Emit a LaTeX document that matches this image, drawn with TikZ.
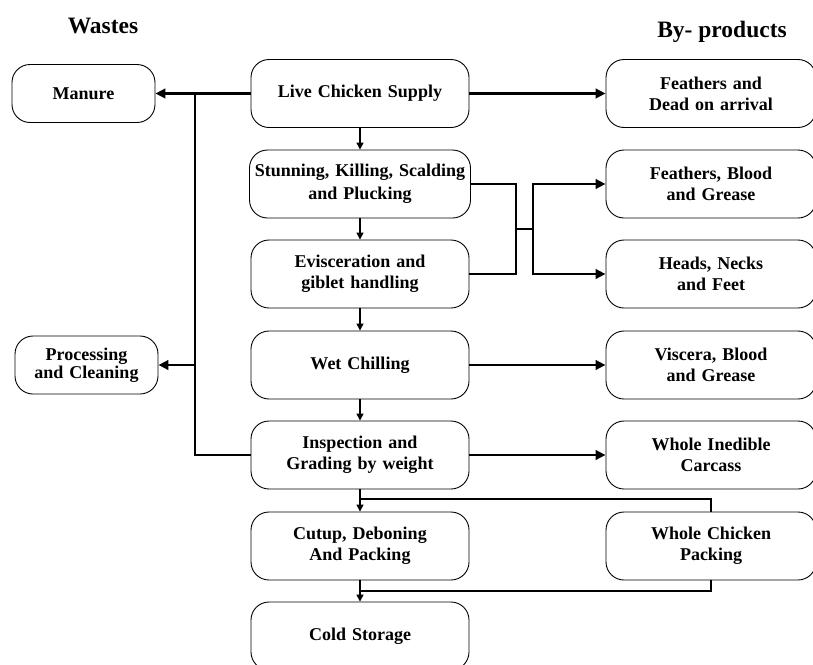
\documentclass[tikz,border=0pt]{standalone}
\usepackage{fontspec}
\setmainfont{Liberation Serif}
\usetikzlibrary{arrows.meta}

\begin{document}
\begin{tikzpicture}[x=1pt, y=-1pt]
    \tikzset{box/.style = {shape=rectangle, draw, rounded corners=18pt, line width=0.9pt, inner sep=0pt, minimum height=68pt, align=center, font=\bfseries\fontsize{18}{21}\selectfont}}
    \tikzset{mainbox/.style = {box, text width=218pt}}
    \tikzset{sidebox/.style = {box, text width=210pt}}
    \tikzset{wastebox/.style = {box, text width=143pt, minimum height=58pt}}
    \tikzset{heading/.style = {font=\bfseries\fontsize{23.5}{27}\selectfont, anchor=base}}
    \tikzset{flow/.style = {draw, line width=1.3pt, -{Triangle[length=7pt, width=7pt]}}}
    \tikzset{edge/.style = {draw, line width=2.5pt, -{Triangle[length=10pt, width=9.5pt]}}}
    \tikzset{link/.style = {draw, line width=2.5pt, -}}

    \useasboundingbox (0,0) rectangle (813,664);

    % headings
    \node[heading] (wastes) at (103,33) {Wastes};
    \node[heading] (byprod) at (722,37) {By- products};

    % vertices
    \node[mainbox] (live) at (360,93.5) {Live Chicken Supply};
    \node[mainbox, text width=221pt, font=\bfseries\fontsize{18}{23}\selectfont] (stun) at (360,184) {Stunning, Killing, Scalding\\ and Plucking};
    \node[mainbox] (evis) at (360,274) {Evisceration and\\ giblet handling};
    \node[mainbox] (wet) at (360,365) {Wet Chilling};
    \node[mainbox] (insp) at (360,455) {Inspection and\\ Grading by weight};
    \node[mainbox] (cut) at (360,546) {Cutup, Deboning\\ And Packing};
    \node[mainbox] (cold) at (360,636) {Cold Storage};

    \node[sidebox] (fda) at (711,93.5) {Feathers and\\ Dead on arrival};
    \node[sidebox] (fbg) at (711,184) {Feathers, Blood\\ and Grease};
    \node[sidebox] (hnf) at (711,274) {Heads, Necks\\ and Feet};
    \node[sidebox] (vbg) at (711,365) {Viscera, Blood\\ and Grease};
    \node[sidebox] (wic) at (711,455) {Whole Inedible\\ Carcass};
    \node[sidebox] (wcp) at (711,546) {Whole Chicken\\ Packing};

    \node[wastebox] (manure) at (83.5,93.5) {Manure};
    \node[wastebox, font=\bfseries\fontsize{18}{18}\selectfont] (proc) at (86.5,365) {Processing\\ and Cleaning};

    % junctions
    \coordinate (ltop) at (195,93.5);
    \coordinate (lmid) at (195,365);
    \coordinate (mrg) at (516,229);
    \coordinate (spl) at (533,229);
    \coordinate (tj) at (360,499);
    \coordinate (bj) at (360,591);

    % edges
    \draw [flow] (live) -- (stun);
    \draw [flow] (stun) -- (evis);
    \draw [flow] (evis) -- (wet);
    \draw [flow] (wet) -- (insp);
    \draw [flow] (insp) -- (cut);
    \draw [flow] (cut) -- (cold);

    \draw [edge] (live) -- (fda);
    \draw [edge] (live) -- (manure);
    \draw [link] (insp.west) -| (ltop);
    \draw [edge] (lmid) -- (proc);

    \draw [link] (stun.east) -| (mrg) |- (evis.east);
    \draw [link] (mrg) -- (spl);
    \draw [edge] (spl) |- (fbg);
    \draw [edge] (spl) |- (hnf);

    \draw [edge] (wet) -- (vbg);
    \draw [edge] (insp) -- (wic);

    \draw [link] (wcp.north) |- (tj);
    \draw [link] (wcp.south) |- (bj);
\end{tikzpicture}
\end{document}
